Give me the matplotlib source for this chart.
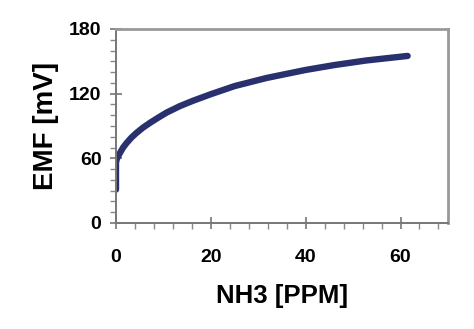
import matplotlib
matplotlib.use("Agg")
import matplotlib.pyplot as plt
from matplotlib.ticker import MultipleLocator

# values
nh3_ppm = [0, 0, 0.15, 0.4, 0.84, 1.5, 2.2, 3.2, 4.3, 5.7, 7.2, 9, 10.7, 13.5,
           16.3, 20, 25, 31.7, 40, 46, 52.8, 61.5]
emf_mv = [31, 56, 59, 61.5, 65, 70, 74, 79, 83.5, 88.5, 93, 98, 102.5, 108.5,
          113.5, 119.5, 127, 134.5, 142, 146.5, 150.8, 155]

x_ticks = [0, 20, 40, 60]
y_ticks = [0, 60, 120, 180]

plt.rcParams['font.family'] = ['Liberation Sans', 'DejaVu Sans']

fig = plt.figure(figsize=(4.74, 3.29), dpi=100)
ax = fig.add_axes([0.2447, 0.3222, 0.7003, 0.5897])

ax.plot(nh3_ppm, emf_mv, color='#28306e', linewidth=4.6, solid_capstyle='round',
        solid_joinstyle='round')

ax.set_xlim(0, 70)
ax.set_ylim(0, 180)
ax.set_xticks(x_ticks)
ax.set_yticks(y_ticks)
ax.xaxis.set_minor_locator(MultipleLocator(4))
ax.yaxis.set_minor_locator(MultipleLocator(10))

for name, s in ax.spines.items():
    s.set_color('#777777' if name in ('left', 'bottom') else '#999999')
    s.set_linewidth(1.4 if name in ('left', 'bottom') else 2.0)

ax.tick_params(which='major', direction='inout', length=9, width=1.2, color='#777777',
               labelsize=14)
ax.tick_params(which='minor', direction='out', length=4, width=1.0, color='#888888')
ax.tick_params(axis='x', which='major', pad=14)
ax.tick_params(axis='y', which='major', pad=6)
for lab in ax.get_xticklabels() + ax.get_yticklabels():
    lab.set_fontweight('bold')

ax.set_xlabel('NH3 [PPM]', fontsize=18.5, fontweight='bold', labelpad=13)
ax.set_ylabel('EMF [mV]', fontsize=20, fontweight='bold', labelpad=7)

fig.savefig('out.png', dpi=100)
